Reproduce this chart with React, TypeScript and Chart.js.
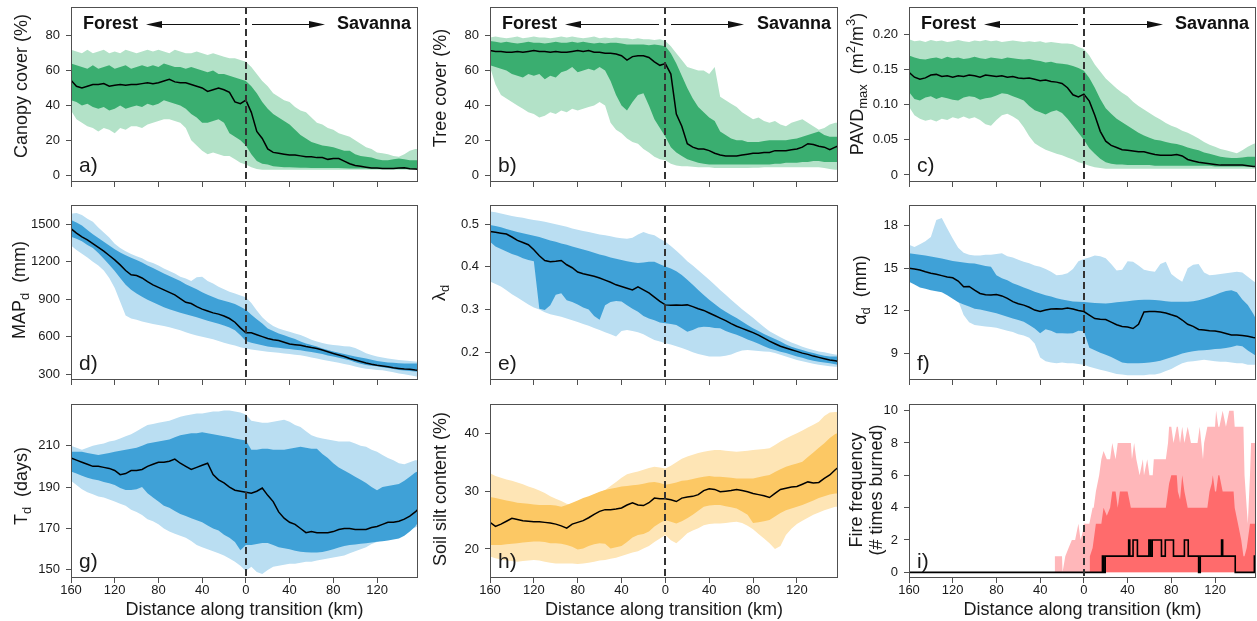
import React, { useEffect, useRef } from 'react';
import { Chart, registerables } from 'chart.js';

Chart.register(...registerables);

// ---------------- data ----------------
const DIST = [
  -160, -155, -150, -145, -140, -135, -130, -125, -120, -115, -110, -105, -100,
  -95, -90, -85, -80, -75, -70, -65, -60, -55, -50, -45, -40, -35,
  -30, -25, -20, -15, -10, -5, 0, 5, 10, 15, 20, 25, 30,
  35, 40, 45, 50, 55, 60, 65, 70, 75, 80, 85, 90, 95,
  100, 105, 110, 115, 120, 125, 130, 135, 140, 145, 150, 155, 157,
];
const X_TICKS = [-160, -120, -80, -40, 0, 40, 80, 120];

// a) canopy cover
const A_MED = [
  54.5, 51, 50, 51, 52, 52, 52.5, 51, 51.5, 52, 51.5, 52, 52,
  52.5, 53, 52.5, 53, 54, 55, 53.5, 53, 53, 52, 51, 50, 48,
  49, 50, 49, 47.5, 42, 41, 43, 36, 25, 21, 15, 13, 12.5,
  12, 11.5, 11.5, 11, 10.5, 10.5, 10, 10, 9, 9.5, 9.5, 8, 6.5,
  5.5, 5, 4.5, 4, 4, 3.8, 3.7, 3.7, 4, 4.2, 3.6, 3.4, 3.3,
];
const A_OHI = [
  72, 71, 70, 72, 70, 71, 72, 70, 71, 70, 72, 71, 70,
  71, 72, 71, 72, 71, 70, 72, 71, 70, 70, 71, 70, 69,
  70, 69, 68, 67, 67, 66, 65, 62, 58, 54, 51, 47, 45,
  43, 42, 39, 37, 36, 33, 30, 29, 27, 26, 24, 23, 22,
  20, 18, 16, 15, 13, 12.5, 12, 11, 10.5, 12, 14, 15, 15,
];
const A_OLO = [
  37, 32, 30, 28, 27, 25, 27, 26, 24, 27, 26, 28, 28,
  27, 29, 30, 31, 32, 32, 31, 30, 27, 20, 17, 14, 12,
  13, 12, 11, 11, 9, 7, 6, 4.5, 3.5, 3, 3, 3, 3,
  3, 3, 3, 3, 3, 3, 3, 3, 3, 3, 3, 3, 3,
  3, 3, 3, 3, 3, 3, 3, 3, 3, 3, 3, 3, 3,
];
const A_IHI = [
  64, 63, 62, 61, 63, 61, 62, 63, 61, 62, 63, 61, 62,
  63, 62, 63, 62, 64, 63, 62, 62, 61, 62, 61, 60, 59,
  60, 58, 58, 57, 56, 55, 54, 51, 47, 42, 38, 35, 33,
  31, 29, 26, 23, 21, 19, 18, 17, 16.5, 16, 15, 14, 14,
  12, 11, 10.5, 10, 9, 8.5, 8.5, 9, 9.5, 9, 8.5, 8.5, 8.5,
];
const A_ILO = [
  43, 42, 40, 41, 39, 38, 39, 37, 38, 40, 38, 39, 40,
  39, 41, 40, 41, 43, 42, 41, 40, 38, 35, 33, 30, 30,
  31, 32, 30, 24, 22, 20, 17, 12, 8, 6.5, 6, 5, 4.8,
  4.5, 4.5, 4.3, 4.2, 4.2, 4.1, 4, 4, 4, 4, 4, 3.9, 3.8,
  3.8, 3.7, 3.7, 3.6, 3.6, 3.6, 3.5, 3.5, 3.5, 3.5, 3.5, 3.5, 3.5,
];

// b) tree cover
const B_MED = [
  71.5, 71, 71, 70.5, 70.5, 71, 70.5, 71, 71.5, 71, 71, 70.5, 71,
  70.5, 70.5, 71, 71.5, 71, 71.5, 70.5, 70.5, 70, 70, 69.5, 68.5, 66,
  68, 68.5, 68.5, 67.5, 65, 63, 64, 58, 35, 28, 18, 16, 15,
  15, 14, 12.5, 11.5, 11, 11, 11, 11.5, 12, 12.5, 12.5, 13, 13,
  14, 14, 14, 14.5, 15, 16, 18, 17.5, 16.5, 16, 14.5, 16, 16.5,
];
const B_OHI = [
  79, 79.5, 79, 78.5, 79, 79.5, 78.5, 79, 79.5, 79, 79, 78.5, 79,
  79.5, 79, 79.5, 79, 78.5, 79, 79.5, 78.5, 79, 78.5, 79, 78.5, 78.5,
  78, 78.5, 78, 78, 77.5, 78, 77, 74, 70, 66, 62, 61, 60,
  60, 58, 62, 45, 43, 41, 39, 36, 34, 32, 33, 31, 30,
  31, 29, 28, 30, 31, 32, 30, 28, 26, 27, 29, 30, 30,
];
const B_OLO = [
  62, 52, 46, 44, 42, 40, 38, 36, 35, 33, 34, 36, 35,
  37, 36, 38, 37, 38, 39, 40, 42, 40, 30, 26, 24, 21,
  19, 18, 15, 13, 10.5, 9, 8.5, 6.5, 5.5, 5, 5, 4.8, 4.5,
  4.5, 4.5, 4, 4, 4, 4, 4, 4, 4, 4.2, 4.2, 4.5, 4.5,
  4.5, 4.5, 4.5, 4.5, 4.5, 4.5, 4.5, 4.5, 4.5, 4, 3.5, 3, 3,
];
const B_IHI = [
  77, 76.5, 76, 76.5, 76, 75.5, 76, 76.5, 76, 76, 75.5, 76, 76.5,
  76, 76, 76.5, 76, 76.5, 76, 75.5, 76, 75.5, 76, 76, 75.5, 75,
  75, 75, 75, 74.5, 75, 74.5, 74, 70, 64, 57, 50, 44, 39,
  36, 33, 31, 25, 23, 21, 20, 20, 19, 19, 19, 19.5, 20,
  20, 20, 20, 20.5, 21, 22, 23, 24, 25, 23, 22, 22, 22,
];
const B_ILO = [
  63, 62, 61, 60, 58, 57, 56, 58, 57, 58, 55, 57, 56,
  59, 60, 62, 59, 60, 61, 60, 62, 60, 54, 46, 40, 37,
  42, 46, 47, 40, 32, 27, 22, 16, 13, 11, 9, 8, 7,
  6.5, 6, 6, 6, 6, 6, 6, 6, 6, 6, 6, 6, 6,
  6.5, 6.5, 7, 7, 7, 7.5, 7.5, 8, 8, 7.5, 7.5, 7.5, 7.5,
];

// c) PAVDmax
const C_MED = [
  0.146, 0.139, 0.136, 0.138, 0.142, 0.143, 0.14, 0.141, 0.139, 0.141, 0.14, 0.142, 0.141,
  0.139, 0.142, 0.141, 0.14, 0.141, 0.139, 0.14, 0.138, 0.137, 0.138, 0.136, 0.134, 0.135,
  0.133, 0.132, 0.13, 0.124, 0.114, 0.111, 0.115, 0.105, 0.085, 0.062, 0.048, 0.042, 0.039,
  0.036, 0.035, 0.034, 0.033, 0.033, 0.031, 0.029, 0.028, 0.028, 0.028, 0.029, 0.027, 0.022,
  0.02, 0.018, 0.017, 0.016, 0.015, 0.014, 0.014, 0.014, 0.014, 0.014, 0.013, 0.012, 0.012,
];
const C_OHI = [
  0.193, 0.19, 0.191, 0.189, 0.192, 0.19, 0.191, 0.189, 0.19, 0.192, 0.19, 0.189, 0.191,
  0.19, 0.192, 0.19, 0.191, 0.189, 0.19, 0.191, 0.19, 0.189, 0.19, 0.189, 0.19, 0.188,
  0.189, 0.188, 0.187, 0.187, 0.186, 0.182, 0.179, 0.17, 0.157, 0.147, 0.137, 0.13, 0.123,
  0.117, 0.112, 0.104, 0.098, 0.093, 0.088, 0.083, 0.079, 0.074, 0.07, 0.067, 0.063, 0.06,
  0.056, 0.052, 0.047, 0.043, 0.04, 0.037, 0.035, 0.033, 0.031, 0.035, 0.04, 0.044, 0.045,
];
const C_OLO = [
  0.097, 0.085, 0.08, 0.077, 0.079, 0.076, 0.08, 0.078, 0.082, 0.08, 0.083, 0.08, 0.082,
  0.078, 0.072, 0.07, 0.078, 0.085, 0.087, 0.083, 0.078, 0.068, 0.055, 0.045, 0.04, 0.036,
  0.033, 0.03, 0.028, 0.025, 0.022, 0.018, 0.016, 0.013, 0.011, 0.01, 0.009, 0.009, 0.009,
  0.009, 0.009, 0.009, 0.009, 0.009, 0.009, 0.009, 0.009, 0.009, 0.009, 0.009, 0.009, 0.009,
  0.009, 0.009, 0.009, 0.009, 0.009, 0.009, 0.009, 0.009, 0.009, 0.009, 0.009, 0.009, 0.009,
];
const C_IHI = [
  0.17, 0.167, 0.165, 0.164, 0.166, 0.167, 0.165, 0.168, 0.166, 0.167, 0.165, 0.166, 0.168,
  0.166, 0.165, 0.167, 0.166, 0.165, 0.167, 0.166, 0.165, 0.164, 0.165, 0.163, 0.162, 0.16,
  0.161, 0.159, 0.158, 0.157, 0.155, 0.152, 0.148, 0.138, 0.124, 0.108, 0.095, 0.087, 0.08,
  0.075, 0.07, 0.065, 0.06, 0.056, 0.053, 0.05, 0.049, 0.047, 0.045, 0.044, 0.042, 0.039,
  0.037, 0.035, 0.032, 0.03, 0.028, 0.026, 0.025, 0.024, 0.024, 0.025, 0.026, 0.026, 0.026,
];
const C_ILO = [
  0.118, 0.108, 0.106, 0.11, 0.112, 0.108, 0.111, 0.109, 0.107, 0.106, 0.11, 0.112, 0.111,
  0.107, 0.109, 0.11, 0.113, 0.116, 0.115, 0.112, 0.109, 0.106, 0.098, 0.092, 0.089, 0.086,
  0.09, 0.092, 0.088, 0.08, 0.07, 0.06, 0.05, 0.038, 0.03, 0.023, 0.018, 0.016, 0.015,
  0.015, 0.014, 0.014, 0.014, 0.014, 0.014, 0.013, 0.013, 0.013, 0.013, 0.013, 0.013, 0.013,
  0.013, 0.013, 0.013, 0.013, 0.012, 0.012, 0.012, 0.012, 0.012, 0.012, 0.012, 0.012, 0.012,
];

// d) MAPd
const D_MED = [
  1465, 1430, 1400, 1375, 1345, 1315, 1285, 1250, 1215, 1175, 1130, 1095, 1090,
  1070, 1040, 1015, 995, 975, 955, 935, 905, 875, 865, 840, 820, 805,
  790, 780, 765, 745, 715, 670, 630, 630, 615, 600, 585, 575, 568,
  555, 540, 535, 530, 520, 512, 505, 492, 478, 465, 452, 440, 425,
  412, 400, 388, 378, 370, 365, 358, 350, 345, 340, 338, 332, 330,
];
const D_OHI = [
  1585, 1590, 1575, 1545, 1520, 1475, 1435, 1395, 1345, 1310, 1285, 1262, 1245,
  1228, 1205, 1190, 1170, 1145, 1125, 1105, 1080, 1065, 1045, 1075, 1080, 1045,
  1025, 1000, 980, 960, 945, 930, 915, 870, 810, 755, 715, 685, 665,
  650, 638, 625, 612, 595, 575, 560, 548, 538, 532, 528, 522, 520,
  508, 488, 466, 452, 440, 432, 425, 418, 412, 408, 404, 400, 398,
];
const D_OLO = [
  1330, 1295, 1265, 1235, 1200, 1170, 1130, 1070, 990, 880, 770, 745, 735,
  722, 710, 700, 692, 684, 675, 662, 650, 635, 620, 608, 598, 588,
  578, 565, 550, 538, 528, 515, 505, 497, 490, 484, 478, 474, 470,
  465, 460, 455, 450, 442, 433, 425, 415, 406, 398, 390, 380, 372,
  360, 350, 343, 338, 333, 330, 322, 315, 305, 298, 290, 282, 278,
];
const D_IHI = [
  1535, 1515, 1490, 1455, 1420, 1390, 1360, 1330, 1300, 1275, 1252, 1232, 1215,
  1195, 1170, 1150, 1128, 1105, 1085, 1065, 1045, 1020, 1000, 980, 955, 935,
  918, 900, 888, 875, 862, 840, 815, 775, 740, 705, 665, 645, 625,
  610, 595, 580, 560, 545, 532, 520, 505, 492, 480, 470, 460, 450,
  440, 432, 425, 415, 405, 398, 393, 390, 386, 385, 385, 385, 385,
];
const D_ILO = [
  1400, 1385, 1365, 1335, 1310, 1270, 1225, 1175, 1125, 1070, 1015, 975, 945,
  920, 895, 875, 855, 835, 820, 805, 792, 780, 768, 755, 742, 728,
  715, 702, 688, 672, 650, 610, 565, 550, 540, 530, 520, 514, 510,
  505, 500, 495, 490, 482, 476, 468, 460, 448, 440, 430, 420, 410,
  395, 382, 372, 366, 362, 355, 348, 340, 333, 328, 324, 320, 318,
];

// e) lambda_d
const E_MED = [
  0.483, 0.481, 0.479, 0.477, 0.47, 0.462, 0.457, 0.452, 0.44, 0.426, 0.415, 0.412, 0.413,
  0.415, 0.405, 0.398, 0.388, 0.384, 0.381, 0.378, 0.374, 0.369, 0.364, 0.358, 0.354, 0.35,
  0.346, 0.353, 0.346, 0.339, 0.329, 0.319, 0.311, 0.31, 0.311, 0.31, 0.311, 0.307, 0.302,
  0.298, 0.292, 0.286, 0.28, 0.274, 0.267, 0.261, 0.256, 0.251, 0.246, 0.24, 0.233, 0.226,
  0.22, 0.214, 0.21, 0.206, 0.202, 0.198, 0.195, 0.191, 0.188, 0.185, 0.182, 0.18, 0.179,
];
const E_OHI = [
  0.53, 0.528, 0.525, 0.522, 0.519, 0.517, 0.515, 0.512, 0.51, 0.508, 0.506, 0.503, 0.5,
  0.497, 0.494, 0.49, 0.487, 0.484, 0.482, 0.479, 0.476, 0.474, 0.472, 0.469, 0.467, 0.466,
  0.468, 0.476, 0.482, 0.477, 0.474, 0.466, 0.459, 0.449, 0.438, 0.426, 0.413, 0.403, 0.392,
  0.381, 0.37, 0.358, 0.346, 0.335, 0.323, 0.312, 0.301, 0.291, 0.281, 0.27, 0.259, 0.249,
  0.242, 0.235, 0.229, 0.223, 0.218, 0.213, 0.209, 0.205, 0.202, 0.2, 0.197, 0.195, 0.194,
];
const E_OLO = [
  0.366, 0.36, 0.354, 0.345, 0.336, 0.328, 0.32, 0.312, 0.305, 0.3, 0.294, 0.289, 0.286,
  0.283, 0.279, 0.275, 0.271, 0.266, 0.262, 0.257, 0.252, 0.247, 0.242, 0.237, 0.25, 0.252,
  0.25, 0.247, 0.242, 0.235, 0.229, 0.225, 0.221, 0.218, 0.214, 0.21, 0.205, 0.2, 0.196,
  0.193, 0.19, 0.19, 0.19, 0.192, 0.195, 0.2, 0.204, 0.205, 0.204, 0.203, 0.202, 0.201,
  0.198, 0.194, 0.19, 0.186, 0.182, 0.179, 0.176, 0.173, 0.171, 0.169, 0.167, 0.166, 0.166,
];
const E_IHI = [
  0.498, 0.496, 0.493, 0.489, 0.485, 0.482, 0.479, 0.476, 0.473, 0.47, 0.466, 0.462, 0.459,
  0.455, 0.452, 0.448, 0.444, 0.441, 0.437, 0.433, 0.429, 0.426, 0.422, 0.419, 0.416, 0.413,
  0.411, 0.409, 0.41, 0.412, 0.412, 0.406, 0.401, 0.396, 0.39, 0.381, 0.37, 0.358, 0.346,
  0.334, 0.323, 0.313, 0.303, 0.295, 0.287, 0.28, 0.272, 0.264, 0.256, 0.25, 0.243, 0.237,
  0.231, 0.225, 0.218, 0.213, 0.209, 0.205, 0.201, 0.198, 0.195, 0.192, 0.19, 0.19, 0.19,
];
const E_ILO = [
  0.459, 0.448, 0.442, 0.436, 0.43, 0.426, 0.42, 0.416, 0.413, 0.302, 0.299, 0.31, 0.335,
  0.338, 0.322, 0.318, 0.312, 0.305, 0.3, 0.285, 0.276, 0.31, 0.318, 0.32, 0.319, 0.31,
  0.302, 0.295, 0.285, 0.279, 0.275, 0.27, 0.268, 0.266, 0.264, 0.256, 0.248, 0.252, 0.258,
  0.26, 0.259, 0.257, 0.256, 0.25, 0.245, 0.241, 0.236, 0.23, 0.225, 0.22, 0.214, 0.209,
  0.205, 0.201, 0.198, 0.194, 0.19, 0.187, 0.183, 0.18, 0.178, 0.176, 0.174, 0.172, 0.171,
];

// f) alpha_d
const F_MED = [
  15.0, 14.95, 14.87, 14.75, 14.65, 14.57, 14.48, 14.38, 14.33, 14.1, 13.7, 13.72, 13.45,
  13.22, 13.13, 13.12, 13.15, 13.05, 12.88, 12.65, 12.5, 12.4, 12.25, 12.05, 11.95, 12.05,
  12.12, 12.15, 12.13, 12.2, 12.12, 12.02, 11.95, 11.7, 11.45, 11.4, 11.38, 11.2, 11.02,
  10.9, 10.85, 10.75, 11.05, 11.92, 11.95, 11.95, 11.92, 11.85, 11.72, 11.6, 11.35, 11.05,
  10.9, 10.68, 10.65, 10.6, 10.58, 10.5, 10.4, 10.3, 10.3, 10.25, 10.2, 10.12, 10.1,
];
const F_OHI = [
  16.65, 16.5, 16.7, 16.9, 17.2, 18.4, 18.55, 17.8, 17.1, 16.45, 16.1, 15.95, 15.9,
  15.9, 15.95, 15.95, 16.0, 16.05, 15.85, 15.75, 15.6, 15.45, 15.35, 15.2, 15.1, 14.95,
  14.75, 14.5, 14.55, 14.65, 14.95, 15.5, 15.65, 15.75, 15.9, 15.85, 15.7, 15.3, 14.85,
  14.9, 15.5, 15.45, 15.2, 14.9, 14.8, 14.75, 15.3, 15.45, 14.6, 14.3, 14.05, 15.0,
  15.25, 15.3, 14.7, 14.5, 14.55, 14.6, 14.65, 14.7, 14.75, 14.7, 14.4, 14.1, 14.0,
];
const F_OLO = [
  14.5, 14.3, 14.1, 13.95, 13.8, 13.65, 13.5, 13.3, 13.1, 12.7, 11.7, 11.2, 11.0,
  10.95, 10.9, 10.85, 10.8, 10.7, 10.6, 10.5, 10.35, 10.25, 10.1, 9.7, 8.7, 8.45,
  8.35, 8.3, 8.35, 8.3, 8.3, 8.25, 8.2, 8.05, 7.95, 7.85, 7.75, 7.65, 7.55,
  7.5, 7.45, 7.45, 7.45, 7.45, 7.5, 7.5, 7.6, 7.75, 7.9, 8.1, 8.3, 8.4,
  8.45, 8.5, 8.55, 8.5, 8.45, 8.4, 8.4, 8.35, 8.3, 8.3, 8.2, 8.2, 8.2,
];
const F_IHI = [
  16.05, 16.0, 15.95, 15.9, 15.82, 15.75, 15.68, 15.6, 15.52, 15.45, 15.4, 15.36, 15.33,
  15.25, 15.15, 15.1, 14.5, 14.3, 14.15, 13.95, 13.8, 13.65, 13.5, 13.35, 13.22, 13.1,
  13.0, 12.88, 12.8, 12.72, 12.65, 12.64, 12.62, 12.58, 12.55, 12.53, 12.52, 12.55, 12.6,
  12.64, 12.68, 12.72, 12.76, 12.77, 12.77, 12.76, 12.72, 12.68, 12.64, 12.63, 12.63, 12.64,
  12.68, 12.75, 12.85, 12.98, 13.12, 13.28, 13.4, 13.45, 13.3, 12.8, 12.4, 11.8, 11.5,
];
const F_ILO = [
  14.05, 13.85, 13.65, 13.55, 13.45, 13.38, 13.3, 13.1, 12.85, 12.6, 12.45, 12.3, 12.15,
  12.1, 12.0, 11.92, 11.82, 11.7, 11.58, 11.45, 11.35, 11.22, 11.0, 10.75, 10.42, 10.7,
  10.6, 10.42, 10.42, 10.4, 10.42, 10.6, 10.55, 9.4, 9.22, 9.05, 8.9, 8.75, 8.55,
  8.35, 8.3, 8.3, 8.3, 8.32, 8.36, 8.4, 8.48, 8.6, 8.72, 8.85, 8.98, 9.08,
  9.15, 9.2, 9.22, 9.25, 9.3, 9.33, 9.38, 9.45, 9.55, 9.5, 9.2, 8.95, 8.85,
];

// g) Td
const G_MED = [
  204, 203, 202, 201, 200, 200, 199.5, 199, 198, 196, 196.5, 198, 198,
  198.5, 200, 201, 202, 202, 202.5, 203.5, 201.5, 200, 198.5, 199.5, 200.5, 201.5,
  196, 193.5, 192, 190, 188.5, 188, 187.5, 187, 188, 189.5, 186, 183, 178,
  175, 173, 172, 170, 168, 168.5, 168, 168, 168, 168.5, 169.5, 170, 170,
  169.5, 169.5, 169.5, 170.5, 171, 172, 173, 173, 173.5, 174.5, 176, 178, 179,
];
const G_OHI = [
  210, 209, 208, 209, 210, 210.5, 211, 212, 212.5, 213.5, 214.5, 215.5, 217,
  218.5, 220, 220.5, 221, 221.5, 222, 223, 224, 224.5, 225, 225.5, 225.5, 226,
  226.5, 226.5, 227, 227, 226.5, 226, 225, 222, 221.5, 221, 221, 221.5, 222,
  222.5, 221.5, 220, 219, 217, 215, 214, 213.5, 213, 212.5, 212, 212, 212,
  211, 210, 209.5, 208, 207, 205.5, 204, 203, 201.5, 201, 202, 203, 203,
];
const G_OLO = [
  193, 191, 189, 187.5, 186.5, 185.5, 185, 184, 183, 182, 181, 179, 178,
  176.5, 174.5, 173.5, 172, 170, 168.5, 167.5, 166.5, 165.5, 164, 162, 161, 160,
  159, 158, 157, 155.5, 154, 152, 149.5, 151.5, 149, 148, 150, 151.5, 152,
  152.5, 153, 153, 153.5, 154, 154, 154.5, 155, 155.5, 156, 156.5, 157, 158,
  159, 160, 161, 162.5, 163.5, 164.5, 165.5, 166.5, 167.5, 168.5, 169.5, 170.5, 171,
];
const G_IHI = [
  207, 207, 207, 206.5, 206, 205.5, 206, 206.5, 207, 207.5, 208, 208.5, 209,
  210, 211, 211.5, 212, 212.5, 213, 214, 215, 215.5, 216, 216, 216.5, 216,
  215.5, 215, 214.5, 214, 213.5, 213, 212.5, 208, 208, 208.5, 208.5, 208, 208,
  208, 208.5, 209, 209.5, 209, 208.5, 208.5, 206, 204, 201.5, 199.5, 198, 196.5,
  195, 193.5, 192, 190, 188.5, 190, 190.5, 191, 191.5, 193, 195, 197, 197.5,
];
const G_ILO = [
  197.5, 196.5, 195.5, 194.5, 193.8, 193.3, 192.5, 191.8, 191, 189.5, 188.6, 188.6, 189,
  190, 187, 185, 183, 181, 180, 178.5, 177, 176, 175, 174, 173, 171.5,
  170, 169, 167, 165.5, 163.5, 159.5, 162, 162, 162.5, 163, 163, 162, 161,
  160.5, 160, 159.3, 158.8, 158.5, 158.4, 158.4, 158.7, 159.3, 160, 160.8, 161.5, 162,
  162.3, 162.6, 162.9, 163.2, 163.6, 163.8, 164.2, 164.7, 165.2, 166.5, 168.5, 171, 172.5,
];

// h) soil silt content
const H_MED = [
  24.6, 23.9, 24.3, 24.8, 25.3, 25.1, 24.9, 24.8, 24.7, 24.7, 24.6, 24.5, 24.3,
  24.0, 23.6, 24.3, 24.6, 24.9, 25.4, 26.0, 26.5, 26.8, 26.8, 26.9, 27.1, 27.6,
  28.0, 27.6, 27.5, 28.0, 28.8, 28.7, 28.7, 28.5, 28.2, 28.8, 29.0, 29.1, 29.4,
  30.1, 30.4, 30.3, 29.9, 30.0, 30.1, 30.3, 30.1, 29.9, 29.6, 29.4, 29.2, 28.9,
  29.6, 30.3, 30.5, 30.7, 30.8, 31.2, 31.6, 31.4, 31.5, 32.2, 32.8, 33.7, 34.0,
];
const H_OHI = [
  33.1, 32.6, 32.3, 32.0, 31.8, 31.5, 31.2, 30.8, 30.5, 30.1, 29.7, 29.1, 28.7,
  28.3, 27.8, 27.6, 27.9, 28.5, 29.0, 29.4, 29.8, 30.2, 30.9, 31.6, 32.3, 32.9,
  33.2, 33.4, 33.7, 34.0, 34.2, 34.1, 33.9, 34.4, 35.0, 35.6, 36.0, 36.3, 36.6,
  36.8, 37.0, 37.1, 37.1, 37.0, 36.9, 36.8, 36.9, 37.0, 37.1, 37.2, 37.3, 37.4,
  38.0, 38.6, 39.1, 39.6, 40.0, 40.5, 41.0, 41.5, 42.0, 43.0, 43.6, 43.7, 43.7,
];
const H_OLO = [
  18.7, 18.4, 18.2, 18.0, 17.9, 17.8, 17.9, 18.0, 18.1, 18.0, 17.8, 17.6, 17.5,
  17.5, 17.5, 17.5, 17.4, 17.5, 17.6, 17.8, 18.0, 18.1, 18.3, 18.5, 18.8, 19.1,
  19.4, 19.6, 20.1, 20.5, 21.2, 21.8, 22.4, 21.5, 21.0, 21.8, 22.7, 23.2, 23.6,
  24.1, 24.3, 24.4, 24.4, 24.5, 24.6, 24.7, 24.5, 24.0, 23.4, 22.6, 21.8, 21.0,
  20.0, 20.5, 22.4, 23.5, 24.3, 24.9, 25.4, 25.9, 26.3, 26.7, 27.0, 27.3, 27.3,
];
const H_IHI = [
  29.0, 28.8, 28.6, 28.4, 28.2, 28.0, 27.9, 27.8, 27.7, 27.6, 27.6, 27.6, 27.5,
  27.3, 27.6, 28.0, 28.4, 28.8, 29.1, 29.5, 29.9, 30.2, 30.4, 30.6, 30.8, 30.9,
  31.0, 31.1, 31.3, 31.5, 31.6, 31.4, 31.1, 31.3, 31.5, 31.8, 31.9, 32.1, 32.3,
  32.5, 32.6, 32.5, 32.5, 32.4, 32.3, 32.2, 32.2, 32.2, 32.2, 32.4, 32.6, 32.8,
  33.3, 33.8, 34.2, 34.5, 34.8, 35.1, 35.9, 36.7, 37.5, 38.3, 39.2, 39.9, 40.0,
];
const H_ILO = [
  20.7, 20.7, 20.7, 20.8, 20.9, 21.0, 21.1, 21.2, 21.3, 21.3, 21.2, 21.0, 21.0,
  20.9, 20.7, 20.4, 19.9, 20.1, 20.5, 20.8, 21.0, 20.9, 20.1, 20.3, 20.5, 21.2,
  22.0, 22.4, 22.6, 23.0, 23.9, 24.5, 25.0, 24.7, 24.4, 24.8, 25.3, 25.9, 26.6,
  27.3, 27.5, 27.6, 27.6, 27.4, 27.2, 27.0, 26.5, 25.9, 24.5, 24.6, 24.8, 25.0,
  25.6, 26.2, 26.7, 27.0, 27.3, 27.6, 28.0, 28.4, 28.8, 29.1, 29.4, 29.6, 29.6,
];

// i) fire frequency
const I_BX = [
  -160, -27, -26.5, -20, -19.5, -17, -14, -11, -8, -5, -3, -1, 0, 3, 5, 5.5,
  8, 9, 11, 14, 16, 18, 21, 24, 26, 29, 31, 33, 37, 40, 43, 44,
  46, 48, 51, 54, 55, 58, 60, 63, 64, 70, 75, 77, 78, 80, 82, 85,
  86, 88, 90, 92, 95, 98, 104, 106, 109, 110, 113, 115, 117, 118, 120, 121,
  123, 124, 127, 130, 133, 137, 138, 141, 144, 146, 147, 149, 150, 152, 153, 157.5,
];
const I_OHI = [
  0, 0, 1, 1, 0, 1, 1.5, 2, 2, 3, 2, 2.5, 3, 3, 3, 3,
  4, 4, 5, 6, 7, 7.5, 7, 7, 8, 7, 8, 8, 8, 8, 8, 7,
  8, 7, 6, 7, 6, 7, 6, 6, 7, 7, 7, 8, 9, 9, 8, 9,
  9, 8, 9, 8, 9, 8, 8, 9, 7, 8, 9, 9, 9, 9, 9, 10,
  9, 9, 10, 9, 10, 10, 9, 9, 9, 9, 6, 4, 3, 6, 8, 8,
];
const I_IHI = [
  0, 0, 0, 0, 0, 0, 0, 0, 0, 0, 0, 0, 0, 0, 0, 1,
  1.5, 2, 3, 3, 3, 4, 3.5, 4, 5, 5, 4, 5, 5, 5, 4, 4,
  4, 4, 4, 4, 4, 4, 4, 4, 4, 4, 4, 5, 5.5, 6, 6, 6,
  5, 4.5, 6, 5, 4, 4, 4, 4, 4, 4, 4, 5, 5.5, 6, 5, 5,
  6, 6, 5, 5, 5, 5, 4, 3, 2, 1, 1, 1.5, 2, 3, 3, 3,
];
const I_MX = [-160, 17, 18, 19.5, 41, 42, 45, 49, 59.5, 61, 62.5, 71, 74.5, 82, 92, 95.5, 105, 106.5, 126, 127, 138.5, 156, 157.5];
const I_MY = [0, 1, 0, 1, 2, 1, 2, 1, 2, 1, 2, 1, 2, 1, 2, 1, 0, 1, 2, 1, 0, 1, 1];

// y-axis ticks
const A_TICKS = [0, 20, 40, 60, 80];
const C_TICKS = [0, 0.05, 0.1, 0.15, 0.2];
const D_TICKS = [300, 600, 900, 1200, 1500];
const E_TICKS = [0.2, 0.3, 0.4, 0.5];
const F_TICKS = [9, 12, 15, 18];
const G_TICKS = [150, 170, 190, 210];
const H_TICKS = [20, 30, 40];
const I_TICKS = [0, 2, 4, 6, 8, 10];

// ---------------- layout / style ----------------
const FONT = '"Liberation Sans", Arial, Helvetica, sans-serif';
const COLS = [{ L: 71, R: 418 }, { L: 490, R: 838 }, { L: 909, R: 1256 }];
const ROWS = [{ T: 7, B: 182 }, { T: 205, B: 380 }, { T: 404, B: 578 }];
const YW = 71;
const PT = 6;
const PR = 2;
const GREEN = { light: '#b3e2c8', dark: '#3aae70' };
const BLUE = { light: '#badef2', dark: '#3fa1d7' };
const ORANGE = { light: '#fee5b5', dark: '#fcc864' };
const RED = { light: '#ffb7ba', dark: '#ff6b6c' };

type Seg = [string, number]; // 0 normal, 1 sub, 2 sup
interface Spec {
  col: number; row: number;
  yMin: number; yMax: number; yTicks: number[]; fmt: (v: number) => string;
  title: Seg[][]; titleX: number[]; titleY: number;
  label: string; colors: { light: string; dark: string };
  bands?: number[][]; // med, ihi, ilo, ohi, olo
  fire?: boolean;
}

const int = (v: number) => String(v);
const f2 = (v: number) => (v === 0 ? '0' : v.toFixed(2));
const f1 = (v: number) => v.toFixed(1);

const SPECS: Spec[] = [
  { col: 0, row: 0, yMin: -4, yMax: 96.5, yTicks: A_TICKS, fmt: int, title: [[['Canopy cover (%)', 0]]], titleX: [-49], titleY: 86, label: 'a)', colors: GREEN, bands: [A_MED, A_IHI, A_ILO, A_OHI, A_OLO] },
  { col: 1, row: 0, yMin: -4, yMax: 96.5, yTicks: A_TICKS, fmt: int, title: [[['Tree cover (%)', 0]]], titleX: [-49], titleY: 88, label: 'b)', colors: GREEN, bands: [B_MED, B_IHI, B_ILO, B_OHI, B_OLO] },
  { col: 2, row: 0, yMin: -0.01, yMax: 0.2388, yTicks: C_TICKS, fmt: f2, title: [[['PAVD', 0], ['max', 1], ['  (m', 0], ['2', 2], ['/m', 0], ['3', 2], [')', 0]]], titleX: [-51], titleY: 84, label: 'c)', colors: GREEN, bands: [C_MED, C_IHI, C_ILO, C_OHI, C_OLO] },
  { col: 0, row: 1, yMin: 252, yMax: 1655, yTicks: D_TICKS, fmt: int, title: [[['MAP', 0], ['d', 1], ['  (mm)', 0]]], titleX: [-51], titleY: 290, label: 'd)', colors: BLUE, bands: [D_MED, D_IHI, D_ILO, D_OHI, D_OLO] },
  { col: 1, row: 1, yMin: 0.135, yMax: 0.545, yTicks: E_TICKS, fmt: f1, title: [[['λ', 0], ['d', 1]]], titleX: [-50], titleY: 293, label: 'e)', colors: BLUE, bands: [E_MED, E_IHI, E_ILO, E_OHI, E_OLO] },
  { col: 2, row: 1, yMin: 7.12, yMax: 19.46, yTicks: F_TICKS, fmt: int, title: [[['α', 0], ['d', 1], ['  (mm)', 0]]], titleX: [-48], titleY: 290, label: 'f)', colors: BLUE, bands: [F_MED, F_IHI, F_ILO, F_OHI, F_OLO] },
  { col: 0, row: 2, yMin: 146.1, yMax: 230.1, yTicks: G_TICKS, fmt: int, title: [[['T', 0], ['d', 1], ['  (days)', 0]]], titleX: [-49], titleY: 486, label: 'g)', colors: BLUE, bands: [G_MED, G_IHI, G_ILO, G_OHI, G_OLO] },
  { col: 1, row: 2, yMin: 14.98, yMax: 45.07, yTicks: H_TICKS, fmt: int, title: [[['Soil silt content (%)', 0]]], titleX: [-49], titleY: 489, label: 'h)', colors: ORANGE, bands: [H_MED, H_IHI, H_ILO, H_OHI, H_OLO] },
  { col: 2, row: 2, yMin: -0.35, yMax: 10.41, yTicks: I_TICKS, fmt: int, title: [[['Fire frequency', 0]], [['(# times burned)', 0]]], titleX: [-52, -32], titleY: 490, label: 'i)', colors: RED, fire: true },
];

function drawRich(ctx: CanvasRenderingContext2D, segs: Seg[], cx: number, cy: number, size: number) {
  const small = Math.round(size * 0.72);
  const widths: number[] = [];
  let total = 0;
  for (const [t, k] of segs) {
    ctx.font = `${k ? small : size}px ${FONT}`;
    const w = ctx.measureText(t).width;
    widths.push(w);
    total += w;
  }
  ctx.save();
  ctx.translate(cx, cy);
  ctx.rotate(-Math.PI / 2);
  ctx.textAlign = 'left';
  ctx.textBaseline = 'middle';
  ctx.fillStyle = '#1a1a1a';
  let x = -total / 2;
  segs.forEach(([t, k], i) => {
    ctx.font = `${k ? small : size}px ${FONT}`;
    const dy = k === 1 ? size * 0.3 : k === 2 ? -size * 0.35 : 0;
    ctx.fillText(t, x, dy);
    x += widths[i];
  });
  ctx.restore();
}

function makeDecor(s: Spec) {
  const { T, B } = ROWS[s.row];
  return {
    id: 'decor',
    afterDraw(chart: any) {
      const ctx: CanvasRenderingContext2D = chart.ctx;
      const ca = chart.chartArea;
      const x0 = Math.round(chart.scales.x.getPixelForValue(0));
      ctx.save();
      // dashed zero line
      ctx.strokeStyle = '#333';
      ctx.lineWidth = 2;
      ctx.setLineDash([7, 4]);
      ctx.beginPath();
      ctx.moveTo(x0, ca.top);
      ctx.lineTo(x0, ca.bottom);
      ctx.stroke();
      ctx.setLineDash([]);
      // box
      ctx.lineWidth = 1;
      ctx.strokeStyle = '#505050';
      ctx.strokeRect(ca.left + 0.5, ca.top + 0.5, ca.right - ca.left - 1, ca.bottom - ca.top - 1);
      // header
      if (s.row === 0) {
        ctx.fillStyle = '#111';
        ctx.font = `bold 18px ${FONT}`;
        ctx.textBaseline = 'alphabetic';
        ctx.textAlign = 'left';
        ctx.fillText('Forest', ca.left + 12, ca.top + 22);
        ctx.textAlign = 'right';
        ctx.fillText('Savanna', ca.right - 7, ca.top + 22);
        const ay = ca.top + 17.5;
        const lt = ca.left + 75;
        const rt = x0 + 79;
        ctx.strokeStyle = '#111';
        ctx.lineWidth = 1;
        ctx.beginPath();
        ctx.moveTo(x0 - 6, ay); ctx.lineTo(lt + 14, ay);
        ctx.moveTo(x0 + 6, ay); ctx.lineTo(rt - 14, ay);
        ctx.stroke();
        ctx.beginPath();
        ctx.moveTo(lt, ay); ctx.lineTo(lt + 16, ay - 3.5); ctx.lineTo(lt + 16, ay + 3.5); ctx.closePath();
        ctx.moveTo(rt, ay); ctx.lineTo(rt - 16, ay - 3.5); ctx.lineTo(rt - 16, ay + 3.5); ctx.closePath();
        ctx.fill();
      }
      // panel label
      ctx.fillStyle = '#1a1a1a';
      ctx.font = `21px ${FONT}`;
      ctx.textAlign = 'left';
      ctx.textBaseline = 'alphabetic';
      ctx.fillText(s.label, ca.left + 8, ca.bottom - 10);
      // y title
      s.title.forEach((segs, i) => {
        drawRich(ctx, segs, ca.left + s.titleX[i], s.titleY - T + ca.top, 18);
      });
      // x title
      if (s.row === 2) {
        ctx.fillStyle = '#1a1a1a';
        ctx.font = `18px ${FONT}`;
        ctx.textAlign = 'center';
        ctx.textBaseline = 'middle';
        ctx.fillText('Distance along transition (km)', (ca.left + ca.right) / 2, ca.bottom + (610 - B));
      }
      ctx.restore();
    },
  };
}

function buildDatasets(s: Spec) {
  const none = 'rgba(0,0,0,0)';
  const band = (xs: number[], ys: number[]) => xs.map((x, i) => ({ x, y: ys[i] }));
  if (s.fire) {
    return [
      { data: band(I_MX, I_MY), borderColor: '#000', borderWidth: 1.6, pointRadius: 0, fill: false, stepped: 'before' },
      { data: band(I_BX, I_IHI), borderColor: none, borderWidth: 0, backgroundColor: s.colors.dark, pointRadius: 0, fill: 'origin' },
      { data: band(I_BX, I_OHI), borderColor: none, borderWidth: 0, backgroundColor: s.colors.light, pointRadius: 0, fill: 'origin' },
    ];
  }
  const [med, ihi, ilo, ohi, olo] = s.bands as number[][];
  return [
    { data: band(DIST, med), borderColor: '#000', borderWidth: 1.5, pointRadius: 0, fill: false },
    { data: band(DIST, ihi), borderColor: none, borderWidth: 0, backgroundColor: s.colors.dark, pointRadius: 0, fill: '+1' },
    { data: band(DIST, ilo), borderColor: none, borderWidth: 0, pointRadius: 0, fill: false },
    { data: band(DIST, ohi), borderColor: none, borderWidth: 0, backgroundColor: s.colors.light, pointRadius: 0, fill: '+1' },
    { data: band(DIST, olo), borderColor: none, borderWidth: 0, pointRadius: 0, fill: false },
  ];
}

function Panel({ s }: { s: Spec }) {
  const ref = useRef<HTMLCanvasElement | null>(null);
  const { L, R } = COLS[s.col];
  const { T, B } = ROWS[s.row];
  const XH = s.row === 2 ? 621 - B : 8;
  const left = L - YW;
  const top = T - PT;
  const width = YW + (R - L) + PR;
  const height = PT + (B - T) + XH;

  useEffect(() => {
    if (!ref.current) return;
    const tickFont = { family: FONT, size: 13 };
    const grid = { display: true, drawOnChartArea: false, drawTicks: true, tickLength: 5, color: '#505050', lineWidth: 1 };
    const chart = new Chart(ref.current, {
      type: 'line',
      data: { datasets: buildDatasets(s) as any },
      options: {
        animation: false,
        responsive: false,
        events: [],
        layout: { padding: { left: 0, top: PT, right: PR, bottom: 0 } },
        plugins: { legend: { display: false }, tooltip: { enabled: false } },
        scales: {
          x: {
            type: 'linear',
            min: -160,
            max: 157.5,
            afterBuildTicks: (sc: any) => { sc.ticks = X_TICKS.map((v) => ({ value: v })); },
            afterFit: (sc: any) => { sc.height = XH; sc.paddingLeft = 0; sc.paddingRight = 0; },
            grid,
            border: { display: false },
            ticks: {
              display: s.row === 2,
              padding: 0,
              font: tickFont,
              color: '#1a1a1a',
              autoSkip: false,
              maxRotation: 0,
              callback: (v: any) => String(Math.abs(Number(v))),
            },
          },
          y: {
            type: 'linear',
            min: s.yMin,
            max: s.yMax,
            afterBuildTicks: (sc: any) => { sc.ticks = s.yTicks.map((v) => ({ value: v })); },
            afterFit: (sc: any) => { sc.width = YW; sc.paddingTop = 0; sc.paddingBottom = 0; },
            grid,
            border: { display: false },
            ticks: {
              padding: 6,
              font: tickFont,
              color: '#1a1a1a',
              autoSkip: false,
              callback: (v: any) => s.fmt(Number(v)),
            },
          },
        },
      } as any,
      plugins: [makeDecor(s)],
    });
    return () => chart.destroy();
  }, []);

  return (
    <canvas
      ref={ref}
      width={width}
      height={height}
      style={{ position: 'absolute', left, top, width, height }}
    />
  );
}

export default function App() {
  return (
    <div style={{ position: 'absolute', left: 0, top: 0, width: 1257, height: 621, background: '#fff', overflow: 'hidden' }}>
      {SPECS.map((s) => (
        <Panel key={s.label} s={s} />
      ))}
    </div>
  );
}
